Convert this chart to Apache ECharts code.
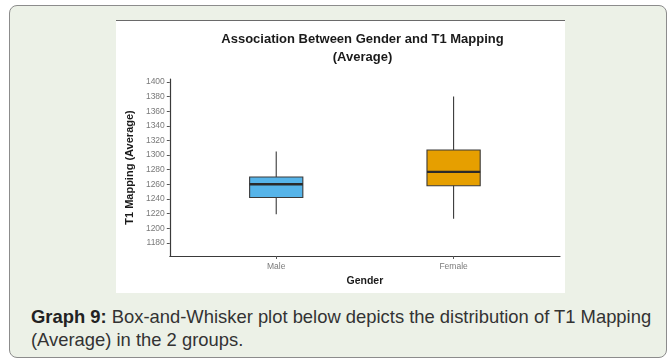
<!DOCTYPE html>
<html>
<head>
<meta charset="utf-8">
<script src="https://cdn.jsdelivr.net/npm/echarts@6/dist/echarts.min.js"></script>
<style>
  html, body { margin: 0; padding: 0; width: 670px; height: 359px; background: #ffffff; overflow: hidden; }
  #card {
    position: absolute; left: 9px; top: 5px; width: 656px; height: 351px;
    border: 1px solid #8c8c8c; border-radius: 8px; background: #ecf1e7;
  }
  #panel {
    position: absolute; left: 116px; top: 20px; width: 449px; height: 272px;
    background: #ffffff; border-top: 1px solid #6a6a6a;
  }
  #chart { position: absolute; left: 116px; top: 21px; width: 493px; height: 272px; }
  #caption {
    position: absolute; left: 31px; top: 305px; width: 630px;
    font-family: "Liberation Sans", Arial, sans-serif; font-size: 18.4px; line-height: 23px;
    color: #333333;
  }
  #caption b { color: #222222; }
</style>
</head>
<body>
<div id="card"></div>
<div id="panel"></div>
<div id="chart"></div>
<div id="caption"><b>Graph 9:</b> Box-and-Whisker plot below depicts the distribution of T1 Mapping (Average) in the 2 groups.</div>
<script>
// T1 mapping (average) summary per gender group
const groups = ['Male', 'Female'];
const whiskerLow = [1219, 1213];
const q1 = [1242, 1258];
const median = [1260, 1277];
const q3 = [1270, 1307];
const whiskerHigh = [1305, 1380];
const fills = ['#56B4E9', '#E69F00'];
const yTicks = [1180, 1200, 1220, 1240, 1260, 1280, 1300, 1320, 1340, 1360, 1380, 1400];

// Group i sits at position i + 1 on a continuous x scale
const boxData = groups.map((g, i) => [i + 1, whiskerLow[i], q1[i], median[i], q3[i], whiskerHigh[i]]);
const groupPositions = groups.map((g, i) => i + 1);

const chart = echarts.init(document.getElementById('chart'), null, { renderer: 'canvas' });

function renderBox(params, api) {
  const x = api.value(0);
  const halfW = api.size([0.3, 0])[0] / 2;
  const pLow = api.coord([x, api.value(1)]);
  const pQ1 = api.coord([x, api.value(2)]);
  const pMed = api.coord([x, api.value(3)]);
  const pQ3 = api.coord([x, api.value(4)]);
  const pHigh = api.coord([x, api.value(5)]);
  const cx = pMed[0];
  const lineColor = '#3a3a3a';
  return {
    type: 'group',
    children: [
      { type: 'line', shape: { x1: cx, y1: pHigh[1], x2: cx, y2: pLow[1] },
        style: { stroke: lineColor, lineWidth: 1.1 } },
      { type: 'rect', shape: { x: cx - halfW, y: pQ3[1], width: halfW * 2, height: pQ1[1] - pQ3[1] },
        style: { fill: fills[params.dataIndex], stroke: lineColor, lineWidth: 1.1 } },
      { type: 'line', shape: { x1: cx - halfW, y1: pMed[1], x2: cx + halfW, y2: pMed[1] },
        style: { stroke: '#2a2a2a', lineWidth: 2.4 } }
    ]
  };
}

chart.setOption({
  animation: false,
  textStyle: { fontFamily: '"Liberation Sans", Arial, sans-serif' },
  title: {
    text: 'Association Between Gender and T1 Mapping\n(Average)',
    left: 'center', top: 9, padding: 0,
    textStyle: { fontSize: 13, fontWeight: 'bold', color: '#1a1a1a', lineHeight: 18 }
  },
  grid: { left: 49, right: 49, top: 58, bottom: 37 },
  xAxis: {
    type: 'value', min: 0.4, max: 2.6,
    name: 'Gender', nameLocation: 'middle', nameGap: 18,
    nameTextStyle: { fontSize: 10.5, fontWeight: 'bold', color: '#1a1a1a' },
    axisLine: { show: true, lineStyle: { color: '#3a3a3a', width: 1.2 } },
    axisTick: { show: true, length: 3, customValues: groupPositions, lineStyle: { color: '#555' } },
    axisLabel: {
      customValues: groupPositions, margin: 6, fontSize: 8.5, color: '#7a7a7a',
      formatter: v => groups[Math.round(v) - 1] || ''
    },
    splitLine: { show: false }
  },
  yAxis: {
    type: 'value', min: 1162, max: 1404,
    name: 'T1 Mapping (Average)', nameLocation: 'middle', nameGap: 29,
    nameTextStyle: { fontSize: 11, fontWeight: 'bold', color: '#1a1a1a' },
    axisLine: { show: true, lineStyle: { color: '#3a3a3a', width: 1.2 } },
    axisTick: { show: true, length: 3, customValues: yTicks, lineStyle: { color: '#555' } },
    axisLabel: { customValues: yTicks, margin: 5, fontSize: 8.5, color: '#7a7a7a', formatter: v => String(v) },
    splitLine: { show: false }
  },
  series: [{
    type: 'custom',
    renderItem: renderBox,
    encode: { x: 0, y: [1, 2, 3, 4, 5] },
    data: boxData
  }]
});
</script>
</body>
</html>
